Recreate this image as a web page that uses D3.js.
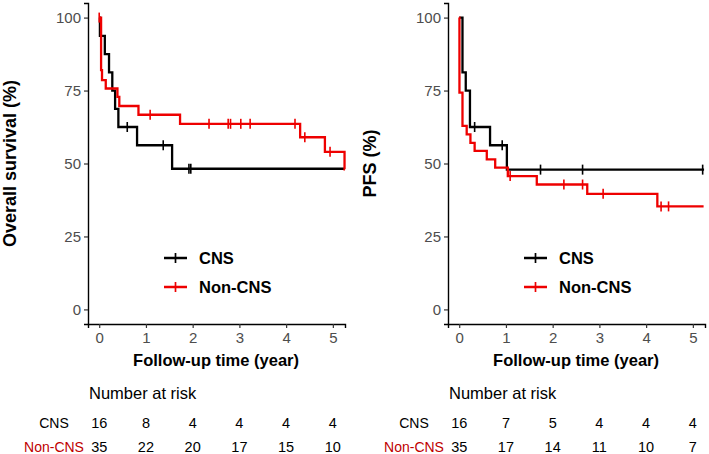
<!DOCTYPE html>
<html><head><meta charset="utf-8">
<script src="https://cdn.jsdelivr.net/npm/d3@7"></script>
<style>body{margin:0;background:#fff}svg{display:block}</style>
</head><body><svg id="c" width="709" height="454"></svg>
<script>
// ---- data ----
const groups = ["CNS", "Non-CNS"];
const xTicks = [0, 1, 2, 3, 4, 5];
const yTicks = [0, 25, 50, 75, 100];
// Overall survival
const osCnsTimes = [0, 0.015, 0.12, 0.21, 0.28, 0.34, 0.41, 0.81, 1.56, 5.26];
const osCnsSurv  = [100, 93.75, 87.5, 81.25, 75, 68.75, 62.5, 56.25, 48.2, 48.2];
const osCnsCens  = [0.6, 1.37, 1.92, 1.96];
const osNonTimes = [0, 0.04, 0.06, 0.14, 0.39, 0.43, 0.84, 1.73, 4.30, 4.83, 5.25, 5.26];
const osNonSurv  = [100, 82, 78.6, 75.7, 72.8, 69.7, 66.7, 63.6, 59.0, 54.0, 48.0, 48.0];
const osNonCens  = [0.0, 1.09, 2.35, 2.76, 2.81, 3.03, 3.23, 4.19, 4.40, 4.94];
// Progression-free survival
const pfsCnsTimes = [0, 0.07, 0.14, 0.23, 0.66, 1.02, 5.24];
const pfsCnsSurv  = [100, 81.25, 75, 62.5, 56.25, 47.9, 47.9];
const pfsCnsCens  = [0.33, 0.92, 1.74, 2.64, 5.21];
const pfsNonTimes = [0, 0.005, 0.07, 0.16, 0.24, 0.33, 0.59, 0.77, 1.04, 1.66, 2.74, 4.24, 5.23];
const pfsNonSurv  = [100, 74.3, 62.9, 60.0, 57.1, 54.3, 51.4, 48.6, 45.7, 42.8, 39.6, 35.3, 35.3];
const pfsNonCens  = [1.09, 2.24, 2.64, 3.08, 4.32, 4.48];
// Number at risk
const riskTimes = [0, 1, 2, 3, 4, 5];
const osRiskCns = [16, 8, 4, 4, 4, 4];
const osRiskNon = [35, 22, 20, 17, 15, 10];
const pfsRiskCns = [16, 7, 5, 4, 4, 4];
const pfsRiskNon = [35, 17, 14, 11, 10, 7];

const colors = ["#000000", "#ee0000"];
const svg = d3.select("#c");
const FONT = "'Liberation Sans', Arial, sans-serif";

function survAt(times, surv, t) {
  let v = surv[0];
  for (let i = 0; i < times.length; i++) if (times[i] <= t) v = surv[i];
  return v;
}

function panel(opt) {
  const x = d3.scaleLinear().domain([-0.24, 5.26]).range([opt.x0, opt.x0 + 257]);
  const y = d3.scaleLinear().domain([-5, 105]).range([324, 3]);
  const g = svg.append("g");
  // axes
  const ax = g.append("g").attr("transform", "translate(0,324)")
    .call(d3.axisBottom(x).tickValues(xTicks).tickSize(4).tickPadding(3).tickFormat(d3.format("d")));
  const ay = g.append("g").attr("transform", `translate(${opt.x0},0)`)
    .call(d3.axisLeft(y).tickValues(yTicks).tickSize(4).tickPadding(3));
  [ax, ay].forEach(a => {
    a.select(".domain").attr("stroke", "#000").attr("stroke-width", 1.4);
    a.selectAll(".tick line").attr("stroke", "#333").attr("stroke-width", 1.2);
    a.selectAll(".tick text").attr("fill", "#4d4d4d").style("font-family", FONT).style("font-size", "15px");
  });
  ax.selectAll(".tick text").attr("dy", "0.8em");
  // axis titles
  g.append("text").attr("x", x(2.5)).attr("y", 366).attr("text-anchor", "middle")
    .style("font-family", FONT).style("font-size", "16.5px").style("font-weight", "bold")
    .text("Follow-up time (year)");
  g.append("text").attr("transform", `translate(${opt.x0 - 72},${y(50)}) rotate(-90)`)
    .attr("text-anchor", "middle").style("font-family", FONT).style("font-size", "18px")
    .style("font-weight", "bold").text(opt.ytitle);
  // curves
  const line = d3.line().x(d => x(d[0])).y(d => y(d[1])).curve(d3.curveStepAfter);
  opt.curves.forEach((c, i) => {
    const pts = c.times.map((t, k) => [t, c.surv[k]]);
    g.append("path").attr("d", line(pts)).attr("fill", "none")
      .attr("stroke", colors[i]).attr("stroke-width", 2.3);
    g.selectAll(null).data(c.cens).enter().append("line")
      .attr("x1", d => x(d)).attr("x2", d => x(d))
      .attr("y1", d => y(survAt(c.times, c.surv, d)) - 5)
      .attr("y2", d => y(survAt(c.times, c.surv, d)) + 5)
      .attr("stroke", colors[i]).attr("stroke-width", 1.6);
  });
  // legend
  groups.forEach((name, i) => {
    const ly = 258 + i * 29;
    const lx = opt.x0 + 76;
    g.append("line").attr("x1", lx).attr("x2", lx + 23).attr("y1", ly).attr("y2", ly)
      .attr("stroke", colors[i]).attr("stroke-width", 2.5);
    g.append("line").attr("x1", lx + 11.5).attr("x2", lx + 11.5).attr("y1", ly - 5).attr("y2", ly + 5)
      .attr("stroke", colors[i]).attr("stroke-width", 1.7);
    g.append("text").attr("x", lx + 35).attr("y", ly).attr("dy", "0.36em")
      .style("font-family", FONT).style("font-size", "16.5px").style("font-weight", "bold")
      .text(name);
  });
  // number at risk
  g.append("text").attr("x", opt.x0 + 1).attr("y", 393).attr("dy", "0.36em")
    .style("font-family", FONT).style("font-size", "16.5px").text("Number at risk");
  const rows = [opt.riskCns, opt.riskNon];
  const labColors = ["#000", "#c00000"];
  rows.forEach((r, i) => {
    const ry = 423 + i * 24;
    g.append("text").attr("x", opt.x0 - 34).attr("y", ry).attr("dy", "0.36em")
      .attr("text-anchor", "middle").attr("fill", labColors[i])
      .style("font-family", FONT).style("font-size", "14px").text(groups[i]);
    g.selectAll(null).data(r).enter().append("text")
      .attr("x", (d, k) => x(riskTimes[k])).attr("y", ry).attr("dy", "0.36em")
      .attr("text-anchor", "middle").style("font-family", FONT).style("font-size", "14.5px")
      .text(d => d);
  });
}

panel({x0: 88, ytitle: "Overall survival (%)",
  curves: [{times: osCnsTimes, surv: osCnsSurv, cens: osCnsCens},
           {times: osNonTimes, surv: osNonSurv, cens: osNonCens}],
  riskCns: osRiskCns, riskNon: osRiskNon});
panel({x0: 448, ytitle: "PFS (%)",
  curves: [{times: pfsCnsTimes, surv: pfsCnsSurv, cens: pfsCnsCens},
           {times: pfsNonTimes, surv: pfsNonSurv, cens: pfsNonCens}],
  riskCns: pfsRiskCns, riskNon: pfsRiskNon});
</script></body></html>
